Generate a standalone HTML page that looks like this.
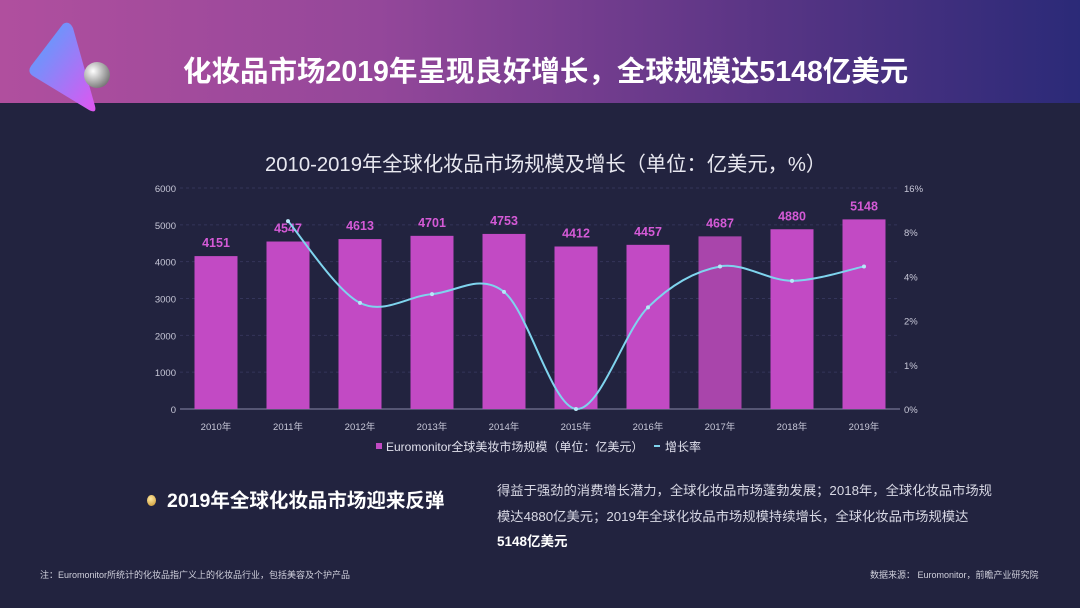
<!DOCTYPE html>
<html><head><meta charset="utf-8">
<style>
body{margin:0;width:1080px;height:608px;overflow:hidden;background:#22233f;font-family:"Liberation Sans","Noto Sans CJK SC",sans-serif;position:relative}
.hdr{position:absolute;left:0;top:0;width:1080px;height:103px;background:linear-gradient(90deg,#b04f9e 0%,#94479a 35%,#5a3585 70%,#2b2a78 100%)}
.t{position:absolute;color:#fff;white-space:nowrap}
</style></head><body>
<div class="hdr"></div>
<svg style="position:absolute;left:25px;top:18px" width="90" height="95">
<defs><linearGradient id="lg" x1="0" y1="0" x2="1" y2="1"><stop offset="0" stop-color="#4aa8ff"/><stop offset="1" stop-color="#e055f0"/></linearGradient>
<radialGradient id="bg" cx="0.35" cy="0.35" r="0.7"><stop offset="0" stop-color="#fff"/><stop offset="1" stop-color="#777"/></radialGradient></defs>
<path d="M38 6 Q44 2 48 10 L70 88 Q72 96 64 92 L8 58 Q2 54 6 48 Z" fill="url(#lg)"/>
<circle cx="72" cy="57" r="13" fill="url(#bg)"/>
</svg>
<div class="t" style="left:183px;top:49px;font-size:28.5px;font-weight:bold">化妆品市场2019年呈现良好增长，全球规模达5148亿美元</div>
<div class="t" style="left:265px;top:147px;font-size:20.3px;color:#e8e8f0">2010-2019年全球化妆品市场规模及增长（单位：亿美元，%）</div>
<svg id="chart" style="position:absolute;left:0;top:0" width="1080" height="470"></svg>
<div class="t" style="left:147px;top:484px;font-size:19.5px;font-weight:bold"><span style="display:inline-block;width:9px;height:11px;border-radius:50%;background:radial-gradient(circle at 40% 35%,#ffe9a0,#c8902a);margin-right:11px;vertical-align:1px"></span>2019年全球化妆品市场迎来反弹</div>
<div class="t" style="left:497px;top:478px;font-size:13.3px;color:#d8d8e4;line-height:25.5px;white-space:normal;width:560px">得益于强劲的消费增长潜力，全球化妆品市场蓬勃发展；2018年，全球化妆品市场规<br>模达4880亿美元；2019年全球化妆品市场规模持续增长，全球化妆品市场规模达<br><b style="color:#fff;font-size:13.5px">5148亿美元</b></div>
<div class="t" style="left:40px;top:568px;font-size:9px;color:#d0d0dc">注：Euromonitor所统计的化妆品指广义上的化妆品行业，包括美容及个护产品</div>
<div class="t" style="left:870px;top:568px;font-size:9px;color:#d0d0dc">数据来源： Euromonitor，前瞻产业研究院</div>
<script>
const years=["2010年","2011年","2012年","2013年","2014年","2015年","2016年","2017年","2018年","2019年"];
const sizes=[4151,4547,4613,4701,4753,4412,4457,4687,4880,5148];
const growth=[null,10,2.8,3.2,3.3,0,2.6,4.9,3.8,4.9];
const leftTicks=[0,1000,2000,3000,4000,5000,6000];
const rightTicks=[0,1,2,4,8,16];
const NS="http://www.w3.org/2000/svg";
const svg=document.getElementById('chart');
const y0=409,yTop=188,x0=180,step=72;
const xs=i=>x0+36+i*step;
const yL=v=>y0-(v/6000)*(y0-yTop);
function yR(v){const h=(y0-yTop)/5;for(let k=0;k<rightTicks.length-1;k++){const a=rightTicks[k],b=rightTicks[k+1];if(v<=b)return y0-(k+(v-a)/(b-a))*h;}return yTop;}
function mk(t,a,txt){const e=document.createElementNS(NS,t);for(const k in a)e.setAttribute(k,a[k]);if(txt!=null)e.textContent=txt;svg.appendChild(e);return e;}
leftTicks.forEach(v=>{const g=mk('line',{x1:x0,x2:900,y1:yL(v),y2:yL(v),stroke:v?'#34355a':'#8a8aa8','stroke-width':1,'stroke-dasharray':v?'3,3':''});

const t=mk('text',{x:176,y:yL(v)+4,'text-anchor':'end','font-size':9.5,fill:'#c8c8d8'},v);
});
rightTicks.forEach(v=>{const t=mk('text',{x:904,y:yR(v)+4,'font-size':9.5,fill:'#c8c8d8'},v+'%');
});
years.forEach((y,i)=>{const w=43,h=y0-yL(sizes[i]);
const r=mk('rect',{x:xs(i)-w/2,y:yL(sizes[i]),width:w,height:h,fill:i==7?'#a945ab':'#c24ac4'});

const l=mk('text',{x:xs(i),y:yL(sizes[i])-9,'text-anchor':'middle','font-size':12.5,'font-weight':'bold',fill:'#d45ad6'},sizes[i]);

const xl=mk('text',{x:xs(i),y:430,'text-anchor':'middle','font-size':9.5,fill:'#c8c8d8'},y);
});
const pts=[];growth.forEach((g,i)=>{if(g!=null)pts.push([xs(i),yR(g)]);});
let d='M'+pts[0][0]+','+pts[0][1];
for(let i=0;i<pts.length-1;i++){const p0=pts[i-1]||pts[i],p1=pts[i],p2=pts[i+1],p3=pts[i+2]||p2;
d+=' C'+(p1[0]+(p2[0]-p0[0])/6)+','+(p1[1]+(p2[1]-p0[1])/6)+' '+(p2[0]-(p3[0]-p1[0])/6)+','+(p2[1]-(p3[1]-p1[1])/6)+' '+p2[0]+','+p2[1];}
const ln=mk('path',{d:d,fill:'none',stroke:'#7fd4ee','stroke-width':2});

pts.forEach(p=>{const c=mk('circle',{cx:p[0],cy:p[1],r:2,fill:'#b8e8f8'});
});
const lr=mk('rect',{x:376,y:443,width:6,height:6,fill:'#c24ac4'});

const lt=mk('text',{x:386,y:451,'font-size':12,fill:'#e0e0ec'},'Euromonitor全球美妆市场规模（单位：亿美元）');

const ll=mk('line',{x1:654,x2:660,y1:446,y2:446,stroke:'#7fd4ee','stroke-width':2});

const lt2=mk('text',{x:665,y:451,'font-size':12,fill:'#e0e0ec'},'增长率');

</script>
</body></html>
